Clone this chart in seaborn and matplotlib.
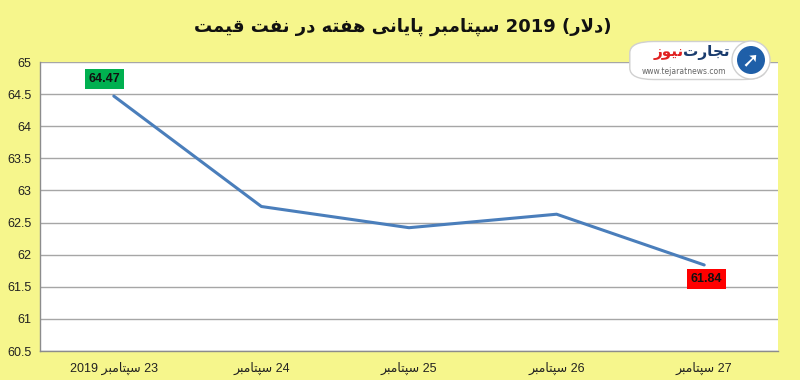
import numpy as np
import pandas as pd
import matplotlib
matplotlib.use("Agg")
import matplotlib.pyplot as plt
from matplotlib.patches import FancyBboxPatch, Ellipse
import seaborn as sns

# data
days = ["23 سپتامبر 2019", "24 سپتامبر", "25 سپتامبر", "26 سپتامبر", "27 سپتامبر"]
prices = [64.47, 62.75, 62.42, 62.63, 61.84]
title = "قیمت نفت در هفته پایانی سپتامبر 2019 (دلار)"
brand_a = "تجارت"
brand_b = "نیوز"
brand_url = "www.tejaratnews.com"

# minimal persian shaping (matplotlib has no bidi / shaping)
FORMS = {  # iso, fin, ini, med  (None -> right joining only)
    "ا": ("\uFE8D", "\uFE8E", None, None),
    "ب": ("\uFE8F", "\uFE90", "\uFE91", "\uFE92"),
    "پ": ("\uFB56", "\uFB57", "\uFB58", "\uFB59"),
    "ت": ("\uFE95", "\uFE96", "\uFE97", "\uFE98"),
    "ج": ("\uFE9D", "\uFE9E", "\uFE9F", "\uFEA0"),
    "د": ("\uFEA9", "\uFEAA", None, None),
    "ر": ("\uFEAD", "\uFEAE", None, None),
    "ز": ("\uFEAF", "\uFEB0", None, None),
    "س": ("\uFEB1", "\uFEB2", "\uFEB3", "\uFEB4"),
    "ف": ("\uFED1", "\uFED2", "\uFED3", "\uFED4"),
    "ق": ("\uFED5", "\uFED6", "\uFED7", "\uFED8"),
    "ل": ("\uFEDD", "\uFEDE", "\uFEDF", "\uFEE0"),
    "م": ("\uFEE1", "\uFEE2", "\uFEE3", "\uFEE4"),
    "ن": ("\uFEE5", "\uFEE6", "\uFEE7", "\uFEE8"),
    "ه": ("\uFEE9", "\uFEEA", "\uFEEB", "\uFEEC"),
    "و": ("\uFEED", "\uFEEE", None, None),
    "ی": ("\uFBFC", "\uFBFD", "\uFBFE", "\uFBFF"),
    "لا": ("\uFEFB", "\uFEFC", None, None),
}


def shape_word(w):
    lead = ""
    tail = ""
    while w and w[0] in "()":
        lead += w[0]
        w = w[1:]
    while w and w[-1] in "()":
        tail = w[-1] + tail
        w = w[:-1]
    if not any(c in FORMS for c in w):
        return lead + w + tail
    units = []
    i = 0
    while i < len(w):
        if w[i] == "ل" and i + 1 < len(w) and w[i + 1] == "ا":
            units.append("لا")
            i += 2
        else:
            units.append(w[i])
            i += 1
    out = []
    for k, u in enumerate(units):
        f = FORMS.get(u)
        if f is None:
            out.append(u)
            continue
        prev = units[k - 1] if k > 0 else None
        nxt = units[k + 1] if k + 1 < len(units) else None
        pj = prev in FORMS and FORMS[prev][2] is not None
        nj = nxt in FORMS and f[2] is not None
        if pj and nj:
            out.append(f[3])
        elif pj:
            out.append(f[1])
        elif nj:
            out.append(f[2])
        else:
            out.append(f[0])
    return lead + "".join(reversed(out)) + tail


def rtl(s):
    return " ".join(shape_word(w) for w in reversed(s.split()))


df = pd.DataFrame({"pos": np.arange(len(days)), "price": prices})

sns.set_theme(style="white")
plt.rcParams["font.family"] = ["Liberation Sans", "DejaVu Sans"]

bg = "#F6F68C"
fig = plt.figure(figsize=(8, 3.8), dpi=100, facecolor=bg)
ax = fig.add_axes([0.05, 0.0763, 0.9225, 0.7605])
ax.set_facecolor("white")

sns.lineplot(data=df, x="pos", y="price", ax=ax, color="#4A7EBB", linewidth=2.2)

ax.set_xlim(-0.5, len(days) - 0.5)
ax.set_ylim(60.5, 65)
yt = np.arange(60.5, 65.01, 0.5)
ax.set_yticks(yt)
ax.set_yticklabels([f"{v:g}" for v in yt], fontsize=9, color="#222222")
ax.set_xticks(df["pos"])
ax.set_xticklabels([rtl(d) for d in days], fontsize=9, color="#222222")
ax.set_xticks(np.arange(-0.5, len(days), 1), minor=True)
ax.tick_params(axis="x", which="major", length=0, pad=8)
ax.tick_params(axis="x", which="minor", length=4, color="#8C8C8C", direction="out")
ax.tick_params(axis="y", length=0, pad=6)
ax.set_xlabel("")
ax.set_ylabel("")
ax.yaxis.grid(True, color="#A6A6A6", linewidth=1)
ax.set_axisbelow(True)
for s in ["top", "right"]:
    ax.spines[s].set_visible(False)
for s in ["left", "bottom"]:
    ax.spines[s].set_color("#8C8C8C")
    ax.spines[s].set_linewidth(1)

# data labels for first and last point
ax.annotate(f"{prices[0]:.2f}", (0, prices[0]), xytext=(-9, 17), textcoords="offset pixels",
            ha="center", va="center", fontsize=9, fontweight="bold", color="#111111",
            bbox=dict(boxstyle="square,pad=0.3", fc="#00B050", ec="none"))
ax.annotate(f"{prices[-1]:.2f}", (len(days) - 1, prices[-1]), xytext=(2, -14), textcoords="offset pixels",
            ha="center", va="center", fontsize=9, fontweight="bold", color="#111111",
            bbox=dict(boxstyle="square,pad=0.3", fc="#FF0000", ec="none"))

fig.text(0.503, 0.93, " ".join(shape_word(w) for w in title.split()), ha="center", va="center",
         fontsize=13, fontweight="bold", color="#111111", family=["DejaVu Sans"])

# logo
def fx(px):
    return px / 800


def fy(py):
    return 1 - py / 380


fig.add_artist(FancyBboxPatch((fx(633), fy(78)), fx(130), 35 / 380,
                              boxstyle="round,pad=0.004,rounding_size=0.03", transform=fig.transFigure,
                              fc="white", ec="#D0D0D0", lw=1))
fig.add_artist(Ellipse((fx(751), fy(60)), 38 / 800, 38 / 380, transform=fig.transFigure,
                       fc="white", ec="#D0D0D0", lw=1))
fig.add_artist(Ellipse((fx(751), fy(60)), 28 / 800, 28 / 380, transform=fig.transFigure,
                       fc="#1F5FA8", ec="none"))
fig.text(fx(750), fy(60), "➚", ha="center", va="center", fontsize=15, color="white",
         family=["DejaVu Sans"])
fig.text(fx(730), fy(53), shape_word(brand_a), ha="right", va="center", fontsize=11,
         fontweight="bold", color="#1A3C6E", family=["DejaVu Sans"])
fig.text(fx(684), fy(53), shape_word(brand_b), ha="right", va="center", fontsize=11,
         fontweight="bold", color="#E02020", family=["DejaVu Sans"])
fig.text(fx(684), fy(71), brand_url, ha="center", va="center", fontsize=5.5,
         color="#666666", family=["DejaVu Sans"])

fig.savefig("out.png", dpi=100, facecolor=bg)
